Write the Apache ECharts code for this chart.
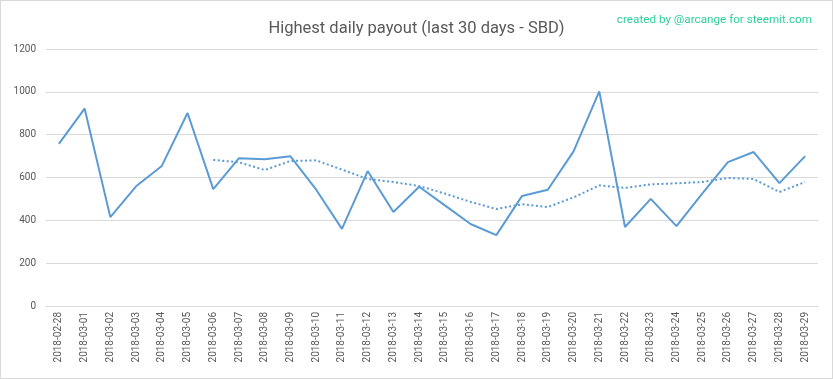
<!DOCTYPE html>
<html><head><meta charset="utf-8">
<script src="https://cdn.jsdelivr.net/npm/echarts@6/dist/echarts.min.js"></script>
<style>html,body{margin:0;padding:0;background:#fff}#c{width:831px;height:377px;border:1px solid #d9d9d9}</style>
</head><body><div id="c"></div>
<script>
const categories = ['2018-02-28','2018-03-01','2018-03-02','2018-03-03','2018-03-04','2018-03-05','2018-03-06','2018-03-07','2018-03-08','2018-03-09','2018-03-10','2018-03-11','2018-03-12','2018-03-13','2018-03-14','2018-03-15','2018-03-16','2018-03-17','2018-03-18','2018-03-19','2018-03-20','2018-03-21','2018-03-22','2018-03-23','2018-03-24','2018-03-25','2018-03-26','2018-03-27','2018-03-28','2018-03-29'];
const payout = [757,922,415,559,654,901,546,690,685,699,543,360,630,439,557,470,383,331,514,543,722,1002,369,500,373,525,672,719,574,700];
const movingAvg = [null,null,null,null,null,null,682,671,635,677,680,637,593,579,560,525,486,453,475,462,507,563,551,568,573,579,598,593,532,579];
const yTicks = [0,200,400,600,800,1000,1200];

const chart = echarts.init(document.getElementById('c'));
chart.setOption({
  animation:false,
  title:[{text:'Highest daily payout (last 30 days - SBD)',left:'center',top:14,
    textStyle:{fontFamily:'Roboto',fontSize:16.5,fontWeight:'normal',color:'#595959'}},
    {text:'created by @arcange for steemit.com',right:15,top:8,
    textStyle:{fontFamily:'Roboto',fontSize:11.7,fontWeight:'normal',color:'#2ecf9f'}}],
  grid:{left:45,right:14,top:48,bottom:72},
  xAxis:{type:'category',data:categories,boundaryGap:true,
    axisLine:{lineStyle:{color:'#d9d9d9'}},axisTick:{show:false},
    axisLabel:{rotate:90,fontFamily:'Roboto',fontSize:10,color:'#595959',margin:6,interval:0}},
  yAxis:{type:'value',min:yTicks[0],max:yTicks[yTicks.length-1],interval:200,
    axisLine:{show:false},axisTick:{show:false},
    splitLine:{lineStyle:{color:'#d9d9d9'}},
    axisLabel:{fontFamily:'Roboto',fontSize:10,color:'#595959',margin:10,formatter:v=>String(v)}},
  series:[
    {type:'line',data:payout,symbol:'none',lineStyle:{color:'#5b9bd5',width:2}},
    {type:'line',data:movingAvg,symbol:'none',lineStyle:{color:'#5b9bd5',width:2,type:[2,2.5]}}
  ]
});
</script></body></html>
